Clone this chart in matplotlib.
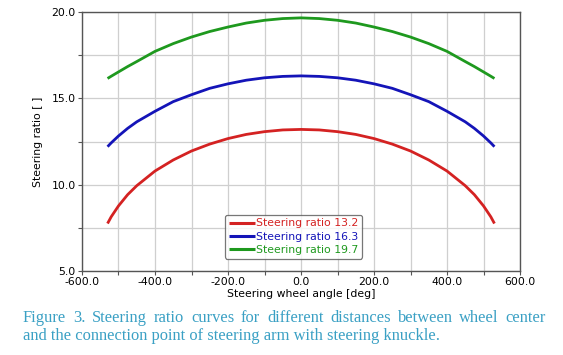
import matplotlib
matplotlib.use("Agg")
import matplotlib.pyplot as plt
from matplotlib.ticker import MultipleLocator, FormatStrFormatter

plt.rcParams['axes.unicode_minus'] = False

angle = [-530, -520, -500, -475, -450, -400, -350, -300, -250, -200, -150, -100, -50,
         0, 50, 100, 150, 200, 250, 300, 350, 400, 450, 475, 500, 520, 530]
ratio_13_2 = [7.75, 8.14, 8.77, 9.42, 9.94, 10.79, 11.43, 11.95, 12.35, 12.67, 12.91, 13.07, 13.17,
              13.2, 13.17, 13.07, 12.91, 12.67, 12.35, 11.95, 11.43, 10.79, 9.94, 9.42, 8.77, 8.14, 7.75]
ratio_16_3 = [12.2, 12.42, 12.82, 13.26, 13.64, 14.25, 14.81, 15.21, 15.58, 15.84, 16.05, 16.19, 16.27,
              16.3, 16.27, 16.19, 16.05, 15.84, 15.58, 15.21, 14.81, 14.25, 13.64, 13.26, 12.82, 12.42, 12.2]
ratio_19_7 = [16.15, 16.28, 16.53, 16.84, 17.13, 17.72, 18.17, 18.55, 18.87, 19.13, 19.36, 19.52, 19.62,
              19.66, 19.62, 19.52, 19.36, 19.13, 18.87, 18.55, 18.17, 17.72, 17.13, 16.84, 16.53, 16.28, 16.15]
series_labels = ["Steering ratio 13.2", "Steering ratio 16.3", "Steering ratio 19.7"]
series_colors = ["#d42222", "#1414b8", "#1e991e"]

caption_line1 = "Figure 3. Steering ratio curves for different distances between wheel center"
caption_line2 = "and the connection point of steering arm with steering knuckle."

fig = plt.figure(figsize=(5.63, 3.55), dpi=100)
ax = fig.add_axes([82/563, (355-271)/355, 438/563, 259/355])

for y, lab, c in zip([ratio_13_2, ratio_16_3, ratio_19_7], series_labels, series_colors):
    ax.plot(angle, y, color=c, lw=2.0, label=lab, solid_capstyle='butt')

ax.set_xlim(-600, 600)
ax.set_ylim(5, 20)
ax.xaxis.set_major_locator(MultipleLocator(200))
ax.xaxis.set_minor_locator(MultipleLocator(100))
ax.yaxis.set_major_locator(MultipleLocator(5))
ax.yaxis.set_minor_locator(MultipleLocator(2.5))
ax.xaxis.set_major_formatter(FormatStrFormatter('%.1f'))
ax.yaxis.set_major_formatter(FormatStrFormatter('%.1f'))
ax.grid(True, which='both', color='#cfcfcf', lw=0.9)
ax.set_axisbelow(True)
ax.tick_params(which='both', direction='out', length=3, width=0.8, color='#555555',
               labelsize=7.8, pad=1.5)
for s in ax.spines.values():
    s.set_color('#555555')
    s.set_linewidth(1.0)

ax.set_xlabel("Steering wheel angle [deg]", fontsize=7.8, labelpad=1.5)
ax.set_ylabel("Steering ratio [ ]", fontsize=7.8, labelpad=6)

leg = ax.legend(loc='upper left', bbox_to_anchor=(0.326, 0.218), fontsize=7.8,
                handlelength=2.4, handletextpad=0.1, borderpad=0.35, labelspacing=0.3,
                frameon=True, fancybox=True, borderaxespad=0)
leg.get_frame().set_edgecolor('#555555')
leg.get_frame().set_linewidth(0.9)
for t, c in zip(leg.get_texts(), series_colors):
    t.set_color(c)
for l in leg.get_lines():
    l.set_linewidth(2.2)

cap_color = '#3aa0c4'
cap_kw = dict(fontsize=11.9, family='Liberation Serif', color=cap_color)
# line 1 justified between x=23 and x=546 px
renderer = fig.canvas.get_renderer()
words = caption_line1.split(' ')
x_left, x_right = 23, 546
y1 = 355 - 321.5
y2 = 355 - 340.5
texts = []
widths = []
for w in words:
    t = fig.text(0, y1/355, w, ha='left', va='baseline', **cap_kw)
    texts.append(t)
    widths.append(t.get_window_extent(renderer).width)
gap = (x_right - x_left - sum(widths)) / (len(words) - 1)
xpos = x_left
for t, wd in zip(texts, widths):
    t.set_x(xpos / 563)
    xpos += wd + gap
fig.text(x_left/563, y2/355, caption_line2, ha='left', va='baseline', **cap_kw)

fig.savefig("out.png", dpi=100)
